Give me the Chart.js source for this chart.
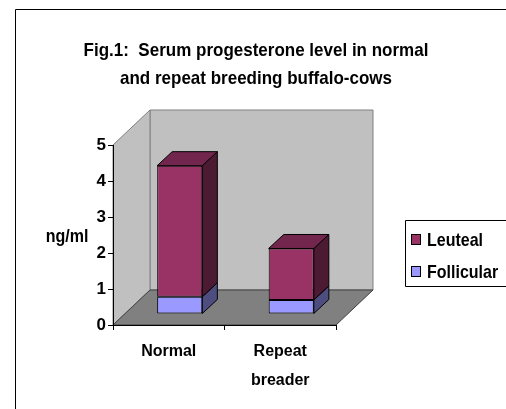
<!DOCTYPE html>
<html>
<head>
<meta charset="utf-8">
<script src="https://cdn.jsdelivr.net/npm/chart.js@4.4.1/dist/chart.umd.min.js"></script>
<style>
    html, body { margin: 0; padding: 0; background: #fff; overflow: hidden; }
    #wrap { width: 506px; height: 409px; overflow: hidden; }
    canvas { display: block; }
</style>
</head>
<body>
<div id="wrap"><canvas id="progChart" width="506" height="409"></canvas></div>
<script>
// Data
const titleLines = ['Fig.1:  Serum progesterone level in normal', 'and repeat breeding buffalo-cows'];
const categories = ['Normal', ['Repeat', 'breader']];
const follicular = [0.48, 0.39];
const leuteal = [3.64, 1.43];
const yLabel = 'ng/ml';
const yMin = 0;
const yMax = 5;
const yStep = 1;

// Excel-ish 3D colours: front, side, top
const follicularColors = ['#9999ff', '#4d4d80', '#7373bf'];
const leutealColors = ['#993366', '#4d1a33', '#73264d'];

const FONT = 'Liberation Sans, Arial, sans-serif';
const WALL_DEPTH = { x: 37, y: -35 };   // floor / wall depth
const BAR_SHIFT = { x: 11, y: -11 };    // bars sit a bit behind the front edge
const BAR_DEPTH = { x: 15, y: -14 };
const TEXT_STRETCH = 1.12;              // the original text is drawn a bit tall

function poly(ctx, pts, fill, stroke) {
    ctx.beginPath();
    ctx.moveTo(pts[0][0], pts[0][1]);
    for (let i = 1; i < pts.length; i++) ctx.lineTo(pts[i][0], pts[i][1]);
    ctx.closePath();
    if (fill) { ctx.fillStyle = fill; ctx.fill(); }
    if (stroke) { ctx.strokeStyle = stroke; ctx.lineWidth = 1; ctx.stroke(); }
}

// text centred on (x, y), stretched vertically
function tallText(ctx, text, x, y) {
    ctx.save();
    ctx.translate(x, y);
    ctx.scale(1, TEXT_STRETCH);
    ctx.fillText(text, 0, 0);
    ctx.restore();
}

const box3d = {
    id: 'box3d',
    beforeDraw(chart) {
        const ctx = chart.ctx;
        const a = chart.chartArea;
        const dx = WALL_DEPTH.x, dy = WALL_DEPTH.y;
        ctx.save();
        ctx.fillStyle = '#fff';
        ctx.fillRect(0, 0, chart.width, chart.height);
        // outer frame (runs off the right / bottom edges)
        ctx.strokeStyle = '#000';
        ctx.lineWidth = 1;
        ctx.beginPath();
        ctx.moveTo(15.5, chart.height);
        ctx.lineTo(15.5, 9.5);
        ctx.lineTo(chart.width, 9.5);
        ctx.stroke();
        // back wall
        poly(ctx, [[a.left + dx, a.top + dy], [a.right + dx, a.top + dy], [a.right + dx, a.bottom + dy], [a.left + dx, a.bottom + dy]], '#c0c0c0', '#808080');
        // side wall
        poly(ctx, [[a.left, a.bottom], [a.left, a.top], [a.left + dx, a.top + dy], [a.left + dx, a.bottom + dy]], '#c0c0c0', '#808080');
        // floor
        poly(ctx, [[a.left, a.bottom], [a.right, a.bottom], [a.right + dx, a.bottom + dy], [a.left + dx, a.bottom + dy]], '#808080', '#404040');
        ctx.restore();
    },
    beforeDatasetsDraw(chart) {
        chart.ctx.save();
        chart.ctx.translate(BAR_SHIFT.x, BAR_SHIFT.y);
    },
    afterDatasetsDraw(chart) {
        const ctx = chart.ctx;
        const last = chart.data.datasets.length - 1;
        chart.data.datasets.forEach((ds, i) => {
            const meta = chart.getDatasetMeta(i);
            meta.data.forEach(bar => {
                const p = bar.getProps(['x', 'y', 'base', 'width'], true);
                const l = p.x - p.width / 2, r = p.x + p.width / 2;
                const top = Math.min(p.y, p.base), bot = Math.max(p.y, p.base);
                poly(ctx, [[r, top], [r + BAR_DEPTH.x, top + BAR_DEPTH.y], [r + BAR_DEPTH.x, bot + BAR_DEPTH.y], [r, bot]], ds.sideColor, '#000');
                if (i === last) {
                    poly(ctx, [[l, top], [l + BAR_DEPTH.x, top + BAR_DEPTH.y], [r + BAR_DEPTH.x, top + BAR_DEPTH.y], [r, top]], ds.topColor, '#000');
                }
            });
        });
        ctx.restore();
    },
    afterDraw(chart) {
        const ctx = chart.ctx;
        ctx.save();
        ctx.fillStyle = '#000';
        // title
        ctx.font = 'bold 17px ' + FONT;
        ctx.textAlign = 'center';
        ctx.textBaseline = 'middle';
        titleLines.forEach((t, i) => tallText(ctx, t, 256, 51 + i * 28));
        // y label, horizontal like the original
        ctx.font = 'bold 16px ' + FONT;
        tallText(ctx, yLabel, 67, 237);
        // legend (Excel lists stacked series top-down)
        ctx.strokeStyle = '#000';
        ctx.lineWidth = 1;
        ctx.beginPath();
        ctx.moveTo(chart.width, 220.5);
        ctx.lineTo(405.5, 220.5);
        ctx.lineTo(405.5, 286.5);
        ctx.lineTo(chart.width, 286.5);
        ctx.stroke();
        ctx.textAlign = 'left';
        const items = chart.data.datasets.slice().reverse();
        items.forEach((ds, i) => {
            const cy = 240 + i * 32;
            ctx.fillStyle = ds.backgroundColor;
            ctx.fillRect(411, cy - 6, 10, 11);
            ctx.strokeRect(411.5, cy - 5.5, 9, 10);
            ctx.fillStyle = '#000';
            tallText(ctx, ds.label, 427, cy + 1);
        });
        ctx.restore();
    }
};

new Chart(document.getElementById('progChart'), {
    type: 'bar',
    data: {
        labels: categories,
        datasets: [
            {
                label: 'Follicular',
                data: follicular,
                backgroundColor: follicularColors[0],
                sideColor: follicularColors[1],
                topColor: follicularColors[2],
                borderColor: '#000',
                borderWidth: 1,
                borderSkipped: false
            },
            {
                label: 'Leuteal',
                data: leuteal,
                backgroundColor: leutealColors[0],
                sideColor: leutealColors[1],
                topColor: leutealColors[2],
                borderColor: '#000',
                borderWidth: 1,
                borderSkipped: false
            }
        ]
    },
    options: {
        responsive: false,
        animation: false,
        devicePixelRatio: 1,
        datasets: { bar: { categoryPercentage: 0.81, barPercentage: 0.5 } },
        layout: { padding: { left: 83, right: 170, top: 145, bottom: 24 } },
        scales: {
            x: {
                stacked: true,
                grid: { drawOnChartArea: false, tickLength: 5, color: '#000' },
                border: { color: '#000' },
                ticks: { color: '#000', font: { family: FONT, size: 16, weight: 'bold', lineHeight: 1.8 }, padding: 7 },
                afterFit(scale) { scale.height = 60; }
            },
            y: {
                stacked: true,
                min: yMin,
                max: yMax,
                ticks: { stepSize: yStep, color: '#000', font: { family: FONT, size: 17, weight: 'bold' }, padding: 2 },
                grid: { drawOnChartArea: false, tickLength: 5, color: '#000' },
                border: { color: '#000' },
                afterFit(scale) { scale.width = 30; }
            }
        },
        plugins: {
            legend: { display: false },
            title: { display: false },
            tooltip: { enabled: false }
        }
    },
    plugins: [box3d]
});
</script>
</body>
</html>
